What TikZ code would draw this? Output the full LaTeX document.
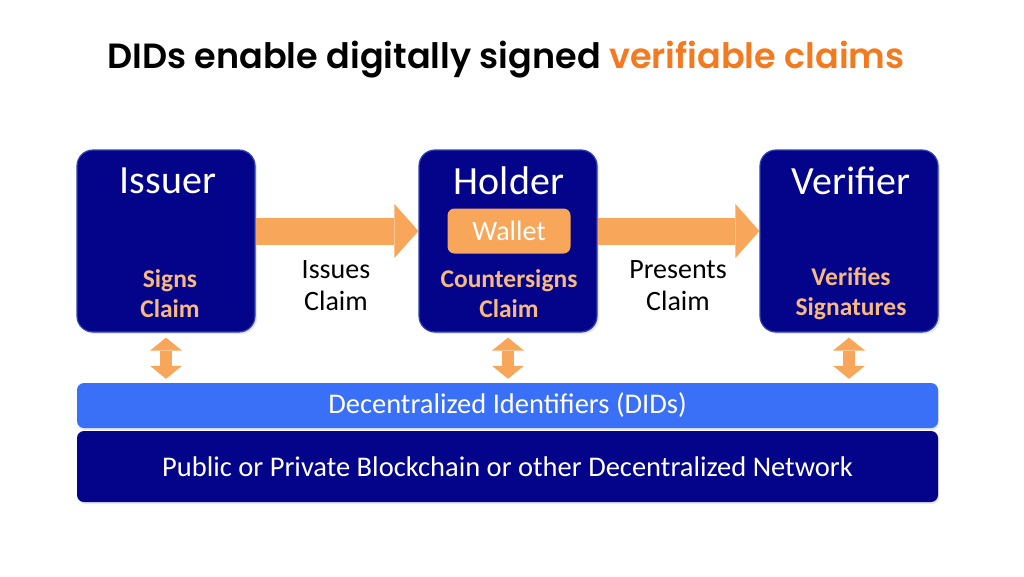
\documentclass[tikz,border=0pt]{standalone}
\usepackage{fontspec}
\setmainfont{Carlito}
\newfontfamily\titlefont{Poppins}[BoldFont={Poppins SemiBold}]
\usetikzlibrary{arrows.meta, shadows}
\definecolor{navy}{RGB}{4,4,138}
\definecolor{navyrim}{RGB}{48,66,176}
\definecolor{didblue}{RGB}{58,112,247}
\definecolor{flow}{RGB}{248,166,90}
\definecolor{peach}{RGB}{247,184,130}
\definecolor{claimorange}{RGB}{244,122,32}

\begin{document}
\begin{tikzpicture}[x=1pt, y=-1pt,
role/.style={rectangle, rounded corners=16pt, draw=navyrim, line width=1.2pt, fill=navy,
minimum width=178pt, minimum height=182pt, drop shadow={opacity=0.2, shadow xshift=2pt,
shadow yshift=-2pt}}, rolename/.style={text=white, font=\fontsize{40}{48}\selectfont},
duty/.style={text=peach, align=center, font=\bfseries\fontsize{25.5}{30}\selectfont},
action/.style={align=center, font=\fontsize{28}{32}\selectfont},
bar/.style={rectangle, rounded corners=7pt, minimum width=861pt, text=white,
font=\fontsize{28.5}{32}\selectfont, drop shadow={opacity=0.2, shadow xshift=1pt, shadow yshift=-2pt}},
flowarr/.style={-{Triangle[length=24pt,width=54pt,line width=0pt]}, line width=27pt, draw=flow},
dblarr/.style={{Triangle[length=13pt,width=32pt,line width=0pt]}-{Triangle[length=13pt,width=32pt,
line width=0pt]}, line width=12pt, draw=flow, shorten <=5pt, shorten >=4pt} ]
\useasboundingbox (0,0) rectangle (1024,576);
\node (title) at (506,60) {\titlefont\bfseries\fontsize{35}{42}\selectfont DIDs enable digitally
signed \textcolor{claimorange}{verifiable claims}};
% the three parties
\node[role] (issuer) at (166,241) {};
\node[role] (holder) at (508,241) {};
\node[role] (verifier) at (849,241) {};
\node[rolename] (issuername) at (168,181) {Issuer};
\node[rolename] (holdername) at (509,181) {Holder};
\node[rolename] (verifiername) at (851,181) {Verifier};
\node[rectangle, rounded corners=7pt, fill=flow, minimum width=123pt, minimum height=45pt,
text=white, font=\fontsize{28}{30}\selectfont] (wallet) at (509,231) {Wallet};
\node[duty] (issuerduty) at (170,294) {Signs\\Claim};
\node[duty] (holderduty) at (509,294) {Countersigns\\Claim};
\node[duty] (verifierduty) at (851,294) {Verifies\\Signatures};
% flow of the claim
\draw[flowarr] (issuer.east |- wallet.center) -- (holder.west |- wallet.center);
\draw[flowarr] (holder.east |- wallet.center) -- (verifier.west |- wallet.center);
\node[action] (issues) at (336,286) {Issues\\Claim};
\node[action] (presents) at (678,286) {Presents\\Claim};
% identifier layer and network
\node[bar, fill=didblue, minimum height=45pt] (dids) at (507.5,405.5) {Decentralized Identifiers (DIDs)};
\node[bar, fill=navy, minimum height=71pt] (net) at (507.5,466.5)
{Public or Private Blockchain or other Decentralized Network};
\draw[dblarr] (issuer.south) -- (issuer.south |- dids.north);
\draw[dblarr] (holder.south) -- (holder.south |- dids.north);
\draw[dblarr] (verifier.south) -- (verifier.south |- dids.north);
\end{tikzpicture}
\end{document}
